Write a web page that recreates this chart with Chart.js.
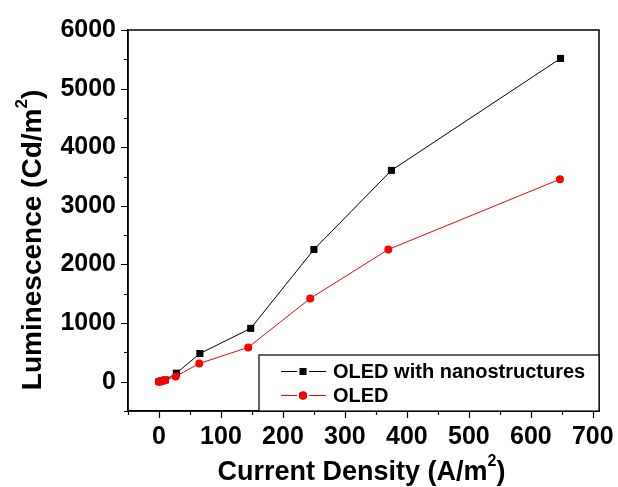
<!DOCTYPE html>
<html>
<head>
<meta charset="utf-8">
<script src="https://cdn.jsdelivr.net/npm/chart.js@4/dist/chart.umd.min.js"></script>
<style>
  html, body { margin: 0; padding: 0; background: #fff; }
  #wrap { width: 618px; height: 487px; }
</style>
</head>
<body>
<div id="wrap"><canvas id="chart"></canvas></div>
<script>
// Data
const nanoLabel = 'OLED with nanostructures';
const nanoX = [0, 2, 5, 10, 28, 66, 148, 250, 375, 648];
const nanoY = [0, 5, 15, 30, 145, 480, 910, 2255, 3605, 5515];

const oledLabel = 'OLED';
const oledX = [0, 2, 5, 10, 27, 65, 144, 244, 370, 647];
const oledY = [0, 5, 12, 25, 90, 310, 585, 1420, 2255, 3455];

const xTicks = [0, 100, 200, 300, 400, 500, 600, 700];
const xMinor = [-50, 50, 150, 250, 350, 450, 550, 650];
const yTicks = [0, 1000, 2000, 3000, 4000, 5000, 6000];
const yMinor = [-500, 500, 1500, 2500, 3500, 4500, 5500];

const xTitle = ['Current Density (A/m', '2', ')'];
const yTitle = ['Luminescence (Cd/m', '2', ')'];

const FONT = "Arial, 'Liberation Sans', sans-serif";

function toPoints(xs, ys) {
  return xs.map((x, i) => ({ x: x, y: ys[i] }));
}

// frame, ticks, axis titles with superscripts, legend box
const decorations = {
  id: 'decorations',
  afterDraw(chart) {
    const ctx = chart.ctx;
    const a = chart.chartArea;
    const xs = chart.scales.x, ys = chart.scales.y;
    ctx.save();
    ctx.strokeStyle = '#000';
    ctx.lineWidth = 1.5;
    ctx.strokeRect(a.left, a.top, a.right - a.left, a.bottom - a.top);

    ctx.lineWidth = 1.2;
    ctx.beginPath();
    const tick = (vals, len) => {
      vals.forEach(v => {
        const px = Math.round(xs.getPixelForValue(v)) + 0.5;
        ctx.moveTo(px, a.bottom);
        ctx.lineTo(px, a.bottom + len);
      });
    };
    const ytick = (vals, len) => {
      vals.forEach(v => {
        const py = Math.round(ys.getPixelForValue(v)) + 0.5;
        ctx.moveTo(a.left, py);
        ctx.lineTo(a.left - len, py);
      });
    };
    tick(xTicks, 7);
    tick(xMinor, 4);
    ytick(yTicks, 7);
    ytick(yMinor, 4);
    ctx.stroke();

    // axis titles
    ctx.fillStyle = '#000';
    drawSupTitle(ctx, xTitle, (a.left + a.right) / 2 - 2, 470, 0, 27);
    drawSupTitle(ctx, yTitle, 31, 240, -Math.PI / 2, 28);

    // legend
    const lx = a.left + 131, ly = a.bottom - 56;
    ctx.fillStyle = '#fff';
    ctx.fillRect(lx, ly, a.right - lx, a.bottom - ly);
    ctx.lineWidth = 1.2;
    ctx.strokeStyle = '#000';
    ctx.strokeRect(lx, ly, a.right - lx, a.bottom - ly);
    chart.data.datasets.forEach((ds, i) => {
      const ry = ly + 16 + i * 24;
      ctx.strokeStyle = ds.borderColor;
      ctx.lineWidth = 1;
      ctx.beginPath();
      ctx.moveTo(lx + 22, ry + 0.5);
      ctx.lineTo(lx + 38, ry + 0.5);
      ctx.moveTo(lx + 50, ry + 0.5);
      ctx.lineTo(lx + 67, ry + 0.5);
      ctx.stroke();
      Chart.helpers.drawPoint(ctx, {
        pointStyle: ds.pointStyle, radius: ds.pointRadius, rotation: 0, borderWidth: 0
      }, lx + 44, ry + 0.5);
      ctx.fillStyle = ds.backgroundColor;
      ctx.fill();
      ctx.fillStyle = '#000';
      ctx.font = 'bold 20px ' + FONT;
      ctx.textAlign = 'left';
      ctx.textBaseline = 'middle';
      ctx.fillText(ds.label, lx + 74, ry + 1);
    });
    ctx.restore();
  }
};

function drawSupTitle(ctx, parts, cx, cy, rot, size) {
  const big = 'bold ' + size + 'px ' + FONT, small = 'bold ' + Math.round(size * 0.6) + 'px ' + FONT;
  ctx.save();
  ctx.translate(cx, cy);
  ctx.rotate(rot);
  ctx.font = big;
  const w0 = ctx.measureText(parts[0]).width;
  const w2 = ctx.measureText(parts[2]).width;
  ctx.font = small;
  const w1 = ctx.measureText(parts[1]).width;
  let x = -(w0 + w1 + w2) / 2;
  ctx.textAlign = 'left';
  ctx.textBaseline = 'alphabetic';
  ctx.font = big;
  ctx.fillText(parts[0], x, 10);
  x += w0;
  ctx.font = small;
  ctx.fillText(parts[1], x, -4);
  x += w1;
  ctx.font = big;
  ctx.fillText(parts[2], x, 10);
  ctx.restore();
}

new Chart(document.getElementById('chart'), {
  type: 'scatter',
  data: {
    datasets: [
      {
        label: nanoLabel,
        data: toPoints(nanoX, nanoY),
        showLine: true,
        borderColor: '#000',
        backgroundColor: '#000',
        borderWidth: 1,
        pointStyle: 'rect',
        pointRadius: 5,
        pointBorderWidth: 0,
        order: 1
      },
      {
        label: oledLabel,
        data: toPoints(oledX, oledY),
        showLine: true,
        borderColor: '#ff0000',
        backgroundColor: '#ff0000',
        borderWidth: 1,
        pointStyle: 'circle',
        pointRadius: 4,
        pointBorderWidth: 0,
        order: 0
      }
    ]
  },
  options: {
    responsive: true,
    maintainAspectRatio: false,
    animation: false,
    layout: { padding: { top: 30, right: 19, left: 0, bottom: 0 } },
    plugins: {
      legend: { display: false },
      tooltip: { enabled: false }
    },
    scales: {
      x: {
        type: 'linear',
        min: -50,
        max: 710,
        afterBuildTicks: s => { s.ticks = xTicks.map(v => ({ value: v })); },
        afterFit: s => { s.height = 76; },
        ticks: {
          color: '#000',
          font: { family: FONT, size: 25, weight: 'bold' },
          padding: 4,
          maxRotation: 0,
          autoSkip: false,
          callback: v => String(v)
        },
        grid: { drawOnChartArea: false, drawTicks: true, tickLength: 7, color: 'rgba(0,0,0,0)' },
        border: { display: true, color: '#000', width: 1.5 }
      },
      y: {
        type: 'linear',
        min: -500,
        max: 6000,
        afterBuildTicks: s => { s.ticks = yTicks.map(v => ({ value: v })); },
        afterFit: s => { s.width = 128; },
        ticks: {
          color: '#000',
          font: { family: FONT, size: 25, weight: 'bold' },
          padding: 5,
          callback: v => String(v)
        },
        grid: { drawOnChartArea: false, drawTicks: true, tickLength: 7, color: 'rgba(0,0,0,0)' },
        border: { display: true, color: '#000', width: 1.5 }
      }
    }
  },
  plugins: [decorations]
});
</script>
</body>
</html>
